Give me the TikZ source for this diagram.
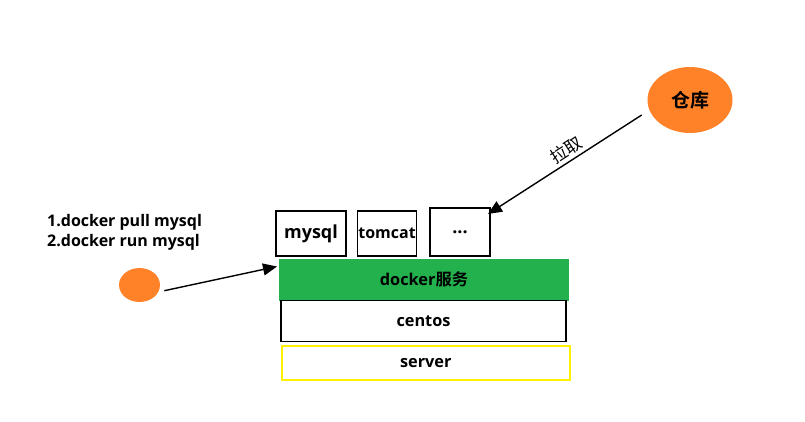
\documentclass[tikz,border=0pt]{standalone}
\usepackage{fontspec}
\setmainfont{Open Sans}
\newfontfamily\cjkb{Noto Sans CJK SC}[BoldFont={* Bold}]
\newfontfamily\cjkr{Noto Sans CJK SC}
\usetikzlibrary{arrows.meta,shapes.geometric}
\definecolor{dgreen}{HTML}{22B14C}
\definecolor{orng}{HTML}{FF8229}
\definecolor{yel}{HTML}{FFF200}
\begin{document}
\begin{tikzpicture}[x=1pt,y=-1pt,
  lbl/.style={font=\fontsize{18}{20}\selectfont\bfseries},
  row/.style={font=\fontsize{16.3}{20}\selectfont\bfseries},
  cmd/.style={font=\fontsize{16}{19.3}\selectfont\bfseries},
  box/.style={draw=black,line width=1.6pt,inner sep=0pt,lbl},
  arr/.style={line width=1.4pt,-{Triangle[length=14pt,width=12pt]}}]
\useasboundingbox (0,0) rectangle (805,421);
\node[box,minimum width=70pt,minimum height=45pt] (mysql) at (311,233.5) {mysql};
\node[box,minimum width=59pt,minimum height=45pt,font=\fontsize{16}{20}\selectfont\bfseries] (tomcat) at (387,233.5) {tomcat};
\node[box,minimum width=60pt,minimum height=48pt] (dots) at (460,232) {...};
\node[fill=dgreen,minimum width=290pt,minimum height=42pt,inner sep=0pt,row] (docker) at (424,279.5) {docker{\cjkb\bfseries 服务}};
\node[box,row,minimum width=285pt,minimum height=41pt,line width=1.6pt] (centos) at (423.5,321) {centos};
\node[box,row,draw=yel,minimum width=288pt,minimum height=34pt] (server) at (425.8,362.7) {server};
\node[ellipse,fill=orng,minimum width=85pt,minimum height=66pt,inner sep=0pt] (repo) at (690,100) {\cjkb\bfseries\fontsize{19}{21}\selectfont 仓库};
\node[ellipse,fill=orng,minimum width=41pt,minimum height=34pt,inner sep=0pt] (user) at (139.5,285) {};
\node[anchor=base west,align=left,cmd,inner sep=0pt] (cmds) at (47,246) {1.docker pull mysql\\2.docker run mysql};
\coordinate (rstart) at (641.7,115);
\coordinate (rend) at (488,214);
\draw[arr] (rstart) -- node[sloped,above,font=\cjkr\fontsize{17}{19}\selectfont,pos=0.45,inner sep=3pt] {拉取} (rend);
\coordinate (ustart) at (164.3,290.7);
\coordinate (uend) at (277,266.5);
\draw[arr] (ustart) -- (uend);
\end{tikzpicture}
\end{document}
